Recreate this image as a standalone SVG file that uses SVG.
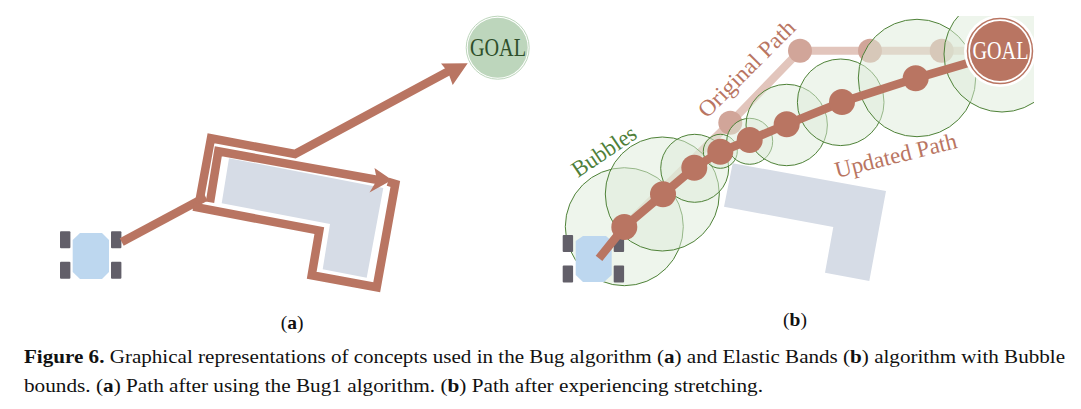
<svg xmlns="http://www.w3.org/2000/svg" width="1081" height="409" viewBox="0 0 1081 409">
<style>
text{font-family:"Liberation Serif","Times New Roman",serif}
.path{fill:none;stroke:#b97562;stroke-width:8.5;stroke-linejoin:miter;stroke-miterlimit:10}
.head{fill:#b97562}
.obst{fill:#d6dce6}
.body{fill:#bdd7ef}
.wheel{fill:#625f69}
.bubble{fill:#ddebd9;fill-opacity:.5;stroke:#4f8238;stroke-width:1}
.dot{fill:#b97562}
.odot{fill:#d1a599}
.cap{font-size:19.5px;fill:#111}
.b{font-weight:bold}
.lab{font-size:23px}
</style>
<defs>
<clipPath id="panelb"><rect x="540" y="16" width="494" height="300"/></clipPath>
<g id="wheels"><rect class="wheel" width="10.4" height="17" rx="1"/><rect class="wheel" x="51" width="10.4" height="17" rx="1"/><rect class="wheel" y="30.4" width="10.4" height="17" rx="1"/><rect class="wheel" x="51" y="30.4" width="10.4" height="17" rx="1"/></g>
</defs>

<g id="obstacle-a"><polygon class="obst" points="229,158.3 383.3,188 366.7,277.7 322.7,269.3 330,224 221.7,203.3"/></g>
<g id="robot-a">
<polygon class="body" points="80,233 102,233 109,240 109,272 102,279 80,279 72.7,272 72.7,240"/>
<use href="#wheels" x="60" y="231.3"/>
</g>
<g id="goal-a">
<circle cx="497.7" cy="47.7" r="31.5" fill="#fff" stroke="#bdd6bc" stroke-width="1"/>
<circle cx="497.7" cy="47.7" r="30" fill="#bdd6bc"/>
<text x="498" y="55.5" font-size="25" text-anchor="middle" textLength="56" lengthAdjust="spacingAndGlyphs" fill="#2f4f2a">GOAL</text>
</g>
<g id="connectors-a">
<polyline class="path" points="121.7,242 205.7,197"/>
<polyline class="path" points="193.3,206.7 319.3,230.7 311.7,275.3 376.7,287.3 395.3,184 388,181.7"/>
<polyline class="path" points="210,202.3 218.3,151.3 378,180"/>
<polyline class="path" points="199.3,201.7 211,138.3 295,154 449,71"/>
<polygon class="head" points="467.7,63.3 441,63.5 448,72 452.7,85"/>
<polygon class="head" points="392,180 374.5,168 377,180 369.5,192.5"/>
</g>

<g id="obstacle-b"><polygon class="obst" points="732.7,163.3 886,191 869.3,281 825,272.7 833.3,227 724,206.7"/></g>
<g id="original-path">
<polyline points="626,225 730.3,122.7 800,50.7 1000,50.7" fill="none" stroke="#e2c5bc" stroke-width="8"/>
<circle class="odot" cx="730.3" cy="122.7" r="12"/>
<circle class="odot" cx="800" cy="50.7" r="12"/>
<circle class="odot" cx="870" cy="50.7" r="12"/>
<circle class="odot" cx="941.7" cy="50.7" r="12"/>
</g>
<g id="bubbles" clip-path="url(#panelb)">
<circle class="bubble" cx="624.3" cy="226.7" r="59"/>
<circle class="bubble" cx="662.3" cy="194" r="57"/>
<circle class="bubble" cx="694.7" cy="168.3" r="34"/>
<circle class="bubble" cx="720.3" cy="151.3" r="17"/>
<circle class="bubble" cx="749.7" cy="141.3" r="23"/>
<circle class="bubble" cx="786.7" cy="125" r="40.7"/>
<circle class="bubble" cx="840.7" cy="102.3" r="43.3"/>
<circle class="bubble" cx="917" cy="78" r="58.7"/>
<circle class="bubble" cx="1002" cy="54" r="58"/>
</g>
<g id="robot-b">
<polygon class="body" points="583,236 606,236 611.7,241 611.7,275 604,282 583,282 575.7,275 575.7,241"/>
<use href="#wheels" x="562.7" y="235"/>
</g>
<g id="updated-path">
<polyline points="599,258.3 624.3,227 663,194.3 694.3,167.7 720.3,151.7 749.7,140 786.7,124.3 842,102 915.7,78.3 985,58" fill="none" stroke="#b97562" stroke-width="8.5"/>
<circle class="dot" cx="624.3" cy="227" r="13"/>
<circle class="dot" cx="663" cy="194.3" r="13"/>
<circle class="dot" cx="694.3" cy="167.7" r="13"/>
<circle class="dot" cx="720.3" cy="151.7" r="13"/>
<circle class="dot" cx="749.7" cy="140" r="13"/>
<circle class="dot" cx="786.7" cy="124.3" r="13"/>
<circle class="dot" cx="842" cy="102" r="13"/>
<circle class="dot" cx="915.7" cy="78.3" r="13"/>
</g>
<g id="goal-b">
<circle cx="1000" cy="51" r="36" fill="#fff"/>
<circle cx="1000" cy="51" r="32.5" fill="#fff" stroke="#b97562" stroke-width="1.5"/>
<circle cx="1000" cy="51" r="30" fill="#b97562"/>
<text x="1000.5" y="59" font-size="25" text-anchor="middle" textLength="56" lengthAdjust="spacingAndGlyphs" fill="#fff">GOAL</text>
</g>
<g id="labels">
<text class="lab" transform="translate(578,178) rotate(-34)" textLength="73" lengthAdjust="spacingAndGlyphs" fill="#4f7f3a">Bubbles</text>
<text class="lab" transform="translate(707,119) rotate(-45)" textLength="127" lengthAdjust="spacingAndGlyphs" fill="#b97562">Original Path</text>
<text class="lab" transform="translate(837,178) rotate(-14)" textLength="125" lengthAdjust="spacingAndGlyphs" fill="#b97562">Updated Path</text>
</g>

<g id="captions">
<text class="cap" x="292" y="329" text-anchor="middle">(<tspan class="b">a</tspan>)</text>
<text class="cap" x="795" y="326" text-anchor="middle">(<tspan class="b">b</tspan>)</text>
<text class="cap" x="24" y="363" textLength="1041" lengthAdjust="spacingAndGlyphs"><tspan class="b">Figure 6.</tspan> Graphical representations of concepts used in the Bug algorithm (<tspan class="b">a</tspan>) and Elastic Bands (<tspan class="b">b</tspan>) algorithm with Bubble</text>
<text class="cap" x="24" y="392" textLength="739" lengthAdjust="spacingAndGlyphs">bounds. (<tspan class="b">a</tspan>) Path after using the Bug1 algorithm. (<tspan class="b">b</tspan>) Path after experiencing stretching.</text>
</g>
</svg>
